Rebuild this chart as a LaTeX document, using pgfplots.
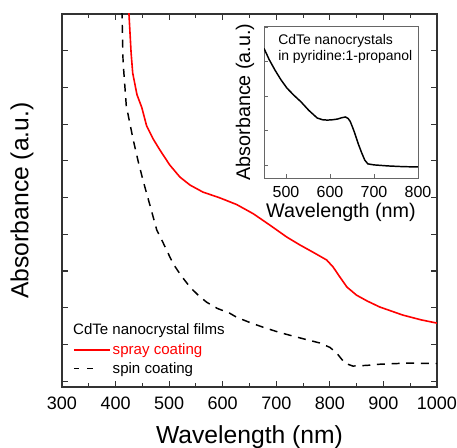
\documentclass[border=0pt]{standalone}
\usepackage{fontspec}
\setmainfont{Liberation Sans}
\usepackage{pgfplots}
\pgfplotsset{compat=1.18}
\pgfplotsset{
  shortdash legend/.style={
    legend image code/.code={\draw[##1, dash pattern=on 4pt off 6pt]
      (0pt,0pt) -- (14pt,0pt);}},
}

% spray coated film
\pgfplotstableread{
wl   a
423  10.5
425  10.0
429  8.94
432  8.39
440  7.80
449  7.45
458  6.95
470  6.60
483  6.29
501  5.89
520  5.56
539  5.34
563  5.15
595  4.99
626  4.81
657  4.56
688  4.25
720  3.92
744  3.71
770  3.50
794  3.30
806  3.11
819  2.83
832  2.56
850  2.34
870  2.18
893  2.02
936  1.80
970  1.67
1000 1.58
}\spray

% spin coated film
\pgfplotstableread{
wl   a
411  10.5
412  10.0
414  8.70
420  7.50
427  7.00
433  6.57
442  6.00
451  5.48
464  4.80
477  4.11
489  3.76
507  3.21
522  2.88
539  2.56
555  2.33
570  2.15
590  1.98
613  1.85
626  1.74
650  1.60
675  1.47
705  1.33
738  1.20
781  1.04
800  0.92
813  0.76
828  0.49
843  0.41
870  0.43
893  0.46
943  0.49
1000 0.48
}\spin

% solution (inset)
\pgfplotstableread{
wl  a
450 3.38
462 3.05
475 2.75
488 2.48
502 2.23
518 2.02
534 1.83
552 1.58
571 1.36
583 1.31
594 1.30
606 1.31
617 1.33
627 1.37
635 1.39
641 1.35
646 1.26
651 1.10
656 0.93
664 0.62
672 0.35
679 0.14
686 0.03
700 0.00
732 -0.03
765 -0.05
800 -0.06
}\soln

\begin{document}
\begin{tikzpicture}
\clip (-46.5pt,-45pt) rectangle (296.25pt,290.25pt);
\begin{axis}[
  name=main, at={(0,0)}, anchor=south west,
  scale only axis, width=281.25pt, height=279.75pt,
  xmin=300, xmax=1000, ymin=-0.16, ymax=10,
  xtick={300,400,...,1000}, minor x tick num=1,
  ytick={0,1,...,10}, yticklabels={},
  tick align=inside,
  major tick length=4.5pt, minor tick length=3pt,
  axis line style={line width=0.9pt, black!80},
  every tick/.style={line width=0.8pt, black!80},
  /pgf/number format/assume math mode=true,
  /pgf/number format/1000 sep={},
  ticklabel style={font=\fontsize{13.5}{16}\selectfont},
  xticklabel style={anchor=base, yshift=-16.5pt},
  xlabel={Wavelength (nm)},
  ylabel={Absorbance (a.u.)},
  label style={font=\fontsize{18.5}{22}\selectfont},
  xlabel style={at={(axis description cs:0.5,-0.134)}, anchor=center},
  ylabel style={at={(axis description cs:-0.107,0.5)}, anchor=center},
  legend style={draw=none, fill=none, at={(axis description cs:0.029,0.123)},
    anchor=north west, font=\fontsize{11.3}{13}\selectfont,
    row sep=1.5pt, inner sep=0pt, nodes={inner sep=1.5pt}},
  legend cell align=left,
  legend image code/.code={\draw[mark repeat=2,mark phase=2,#1]
    plot coordinates {(0pt,0pt) (13pt,0pt) (27pt,0pt)};},
]
\addplot[draw=red, line width=1.2pt] table[x=wl, y=a] {\spray};
\addlegendentry{\textcolor{red}{spray coating}}
\addplot[draw=black, line width=1.1pt, dash pattern=on 6pt off 5pt,
  shortdash legend] table[x=wl, y=a] {\spin};
\addlegendentry{spin coating}
\node[anchor=west, inner sep=0pt, font=\fontsize{11.3}{13}\selectfont]
  at (axis description cs:0.029,0.152) {CdTe nanocrystal films};
\end{axis}

\begin{axis}[
  at={(151.5pt,156.75pt)}, anchor=south west,
  scale only axis, width=115.5pt, height=114pt,
  axis background/.style={fill=white},
  xmin=450, xmax=800, ymin=-0.38, ymax=4.03,
  xtick={500,600,700,800}, ytick={0,1,2,3,4}, yticklabels={},
  tick pos=left, tick align=inside,
  major tick length=3pt,
  axis line style={line width=0.6pt, black!60},
  every tick/.style={line width=0.6pt, black!60},
  /pgf/number format/assume math mode=true,
  ticklabel style={font=\fontsize{12}{14}\selectfont},
  xticklabel style={anchor=base, yshift=-14.25pt},
  xlabel={Wavelength (nm)},
  ylabel={Absorbance (a.u.)},
  label style={font=\fontsize{14.8}{17}\selectfont},
  xlabel style={at={(axis description cs:0.5,-0.224)}, anchor=center},
  ylabel style={at={(axis description cs:-0.123,0.5)}, anchor=center},
]
\addplot[black, line width=1.1pt] table[x=wl, y=a] {\soln};
\node[anchor=west, inner sep=0pt, font=\fontsize{10.45}{12}\selectfont]
  at (axis description cs:0.091,0.901) {CdTe nanocrystals};
\node[anchor=west, inner sep=0pt, font=\fontsize{10.45}{12}\selectfont]
  at (axis description cs:0.091,0.796) {in pyridine:1-propanol};
\end{axis}
\end{tikzpicture}
\end{document}
